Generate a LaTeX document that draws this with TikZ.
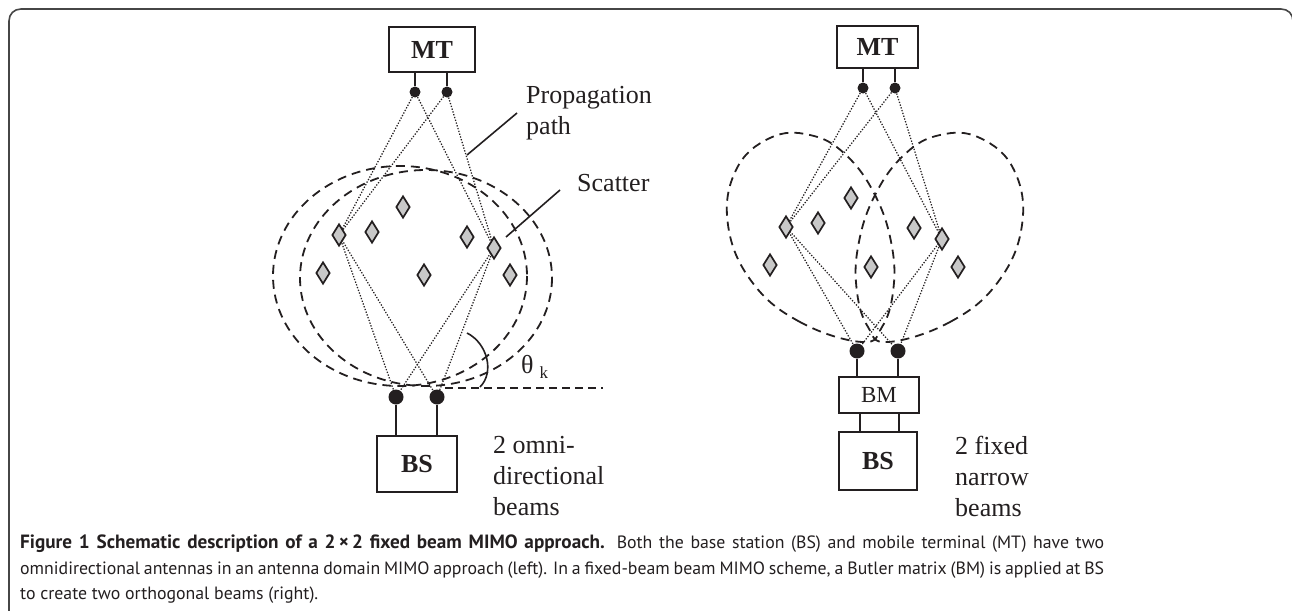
\documentclass[tikz,border=0pt]{standalone}
\usepackage{fontspec}
\setmainfont{Liberation Serif}
\newfontfamily\capfont{PT Sans}
\usetikzlibrary{shapes.geometric}
\definecolor{ink}{RGB}{35,31,32}
\definecolor{framec}{RGB}{70,70,70}
\definecolor{scat}{RGB}{200,200,200}
\begin{document}
\begin{tikzpicture}[x=1pt,y=-1pt,
  every node/.style={text=ink},
  box/.style={draw=ink, line width=1.4pt, inner sep=0pt, font=\fontsize{26}{30}\selectfont\bfseries},
  bmbox/.style={draw=ink, line width=1.4pt, inner sep=0pt, font=\fontsize{23}{26}\selectfont},
  smalldot/.style={circle, fill=ink, inner sep=0pt, minimum size=11pt},
  bigdot/.style={circle, fill=ink, inner sep=0pt, minimum size=15pt},
  stem/.style={draw=ink, line width=2pt},
  thin/.style={draw=ink, line width=1.3pt},
  scatterer/.style={diamond, draw=ink, fill=scat, line width=1.7pt, inner sep=0pt, minimum width=14pt, minimum height=22pt},
  path/.style={draw=ink, line width=1.25pt, dash pattern=on 1.3pt off 1.6pt},
  beam/.style={draw=ink, line width=1.8pt, dash pattern=on 9pt off 6pt},
  leader/.style={draw=ink, line width=1.6pt},
  lbl/.style={font=\fontsize{26}{31}\selectfont, align=left, inner sep=0pt},
]
\useasboundingbox (0,0) rectangle (1292,610);
% frame
\draw[framec, line width=1.6pt] (9,615) -- (9,21) .. controls (9,14) and (14,9) .. (21,9) -- (1281,9) .. controls (1288,9) and (1293,14) .. (1293,21) -- (1293,615);

% ================= LEFT =================
\node[box, minimum width=86pt, minimum height=45pt] (mtL) at (432,49.5) {MT};
\node[smalldot] (ma1) at (415,92) {};
\node[smalldot] (ma2) at (447,92) {};
\draw[stem] (ma1) -- (ma1 |- mtL.south);
\draw[stem] (ma2) -- (ma2 |- mtL.south);

\node[box, minimum width=80pt, minimum height=56pt] (bsL) at (417,464) {BS};
\node[bigdot] (ba1) at (396,397) {};
\node[bigdot] (ba2) at (437,397) {};
\draw[stem] (ba1) -- (ba1 |- bsL.north);
\draw[stem] (ba2) -- (ba2 |- bsL.north);

% beams (omni)
\draw[beam] (400,276) ellipse [x radius=127, y radius=110];
\draw[beam] (426,278) ellipse [x radius=126, y radius=108];

% scatterer positions
\coordinate (sl) at (339,235);
\coordinate (sr) at (494,248);
\draw[path] (ma1) -- (sl);
\draw[path] (ma1) -- (sr);
\draw[path] (ma2) -- (sl);
\draw[path] (ma2) -- (sr);
\draw[path] (sl) -- (ba1);
\draw[path] (sl) -- (ba2);
\draw[path] (sr) -- (ba1);
\draw[path] (sr) -- (ba2);

\node[scatterer] (d1) at (403,207) {};
\node[scatterer] (d2) at (339,235) {};
\node[scatterer] (d3) at (372,232) {};
\node[scatterer] (d4) at (467,237) {};
\node[scatterer] (d5) at (494,248) {};
\node[scatterer] (d6) at (323,273) {};
\node[scatterer] (d7) at (424,275) {};
\node[scatterer] (d8) at (510,275) {};

% angle reference
\coordinate (hz) at (603,388);
\draw[ink, line width=1.5pt, dash pattern=on 8pt off 5pt] (ba2 |- hz) ++(8,0) -- (hz);
\draw[ink, line width=1.6pt] (467,333) .. controls (487,343) and (495,372) .. (480,387);
\node[inner sep=0pt, anchor=base west, font=\fontsize{26}{30}\selectfont] (th) at (521,373) {θ\hspace{6pt}\raisebox{-5pt}{\fontsize{17}{20}\selectfont k}};

% labels
\node[lbl, anchor=north west] (prop) at (526,86) {Propagation\\path};
\coordinate (pa) at (517,113);
\coordinate (pb) at (467,155);
\draw[leader] (pa) -- (pb);
\node[lbl, anchor=west] (scl) at (577,183) {Scatter};
\coordinate (sa) at (560,190);
\coordinate (sb) at (506,237);
\draw[leader] (sa) -- (sb);
\node[lbl, anchor=north west] (omni) at (493,436) {2 omni-\\directional\\beams};

% ================= RIGHT =================
\node[box, minimum width=81pt, minimum height=42pt] (mtR) at (877.5,47) {MT};
\node[smalldot] (mb1) at (863,88) {};
\node[smalldot] (mb2) at (895,88) {};
\draw[stem] (mb1) -- (mb1 |- mtR.south);
\draw[stem] (mb2) -- (mb2 |- mtR.south);

\node[bmbox, minimum width=80pt, minimum height=36pt] (bm) at (879,395) {BM};
\node[box, minimum width=78pt, minimum height=58pt] (bsR) at (878,461) {BS};
\node[bigdot] (bb1) at (857,351) {};
\node[bigdot] (bb2) at (898,351) {};
\draw[stem] (bb1) -- (bb1 |- bm.north);
\draw[stem] (bb2) -- (bb2 |- bm.north);
\draw[thin] (860,413) -- (860,432);
\draw[thin] (899,413) -- (899,432);

% beams (narrow)
\draw[beam] plot[smooth cycle, tension=0.7] coordinates {(862,342) (800,322) (752,282) (728,225) (736,170) (770,138) (810,135) (846,155) (876,197) (892,247) (893,292) (882,327)};
\draw[beam] plot[smooth cycle, tension=0.7] coordinates {(888,342) (950,322) (998,282) (1022,225) (1014,170) (980,138) (940,135) (904,155) (874,197) (858,247) (857,292) (868,327)};

\coordinate (tl) at (786,227);
\coordinate (tr) at (942,239);
\draw[path] (mb1) -- (tl);
\draw[path] (mb1) -- (tr);
\draw[path] (mb2) -- (tl);
\draw[path] (mb2) -- (tr);
\draw[path] (tl) -- (bb1);
\draw[path] (tl) -- (bb2);
\draw[path] (tr) -- (bb1);
\draw[path] (tr) -- (bb2);

\node[scatterer] (e1) at (851,198) {};
\node[scatterer] (e2) at (786,227) {};
\node[scatterer] (e3) at (818,223) {};
\node[scatterer] (e4) at (914,228) {};
\node[scatterer] (e5) at (942,239) {};
\node[scatterer] (e6) at (770,265) {};
\node[scatterer] (e7) at (871,267) {};
\node[scatterer] (e8) at (958,267) {};

\node[lbl, anchor=north west] (fixed) at (955,436) {2 fixed\\narrow\\beams};

% ================= CAPTION =================
\node[anchor=north west, inner sep=0pt, text width=1084pt, align=justify, font=\capfont\fontsize{17.8}{25.5}\selectfont] (cap) at (20,535)
{{\fontsize{19.2}{25.5}\selectfont\bfseries Figure 1 Schematic description of a 2\,×\,2 fixed beam MIMO approach.} Both the base station (BS) and mobile terminal (MT) have two\linebreak
omnidirectional antennas in an antenna domain MIMO approach (left). In a fixed-beam beam MIMO scheme, a Butler matrix (BM) is applied at BS\linebreak
to create two orthogonal beams (right).};
\end{tikzpicture}
\end{document}
